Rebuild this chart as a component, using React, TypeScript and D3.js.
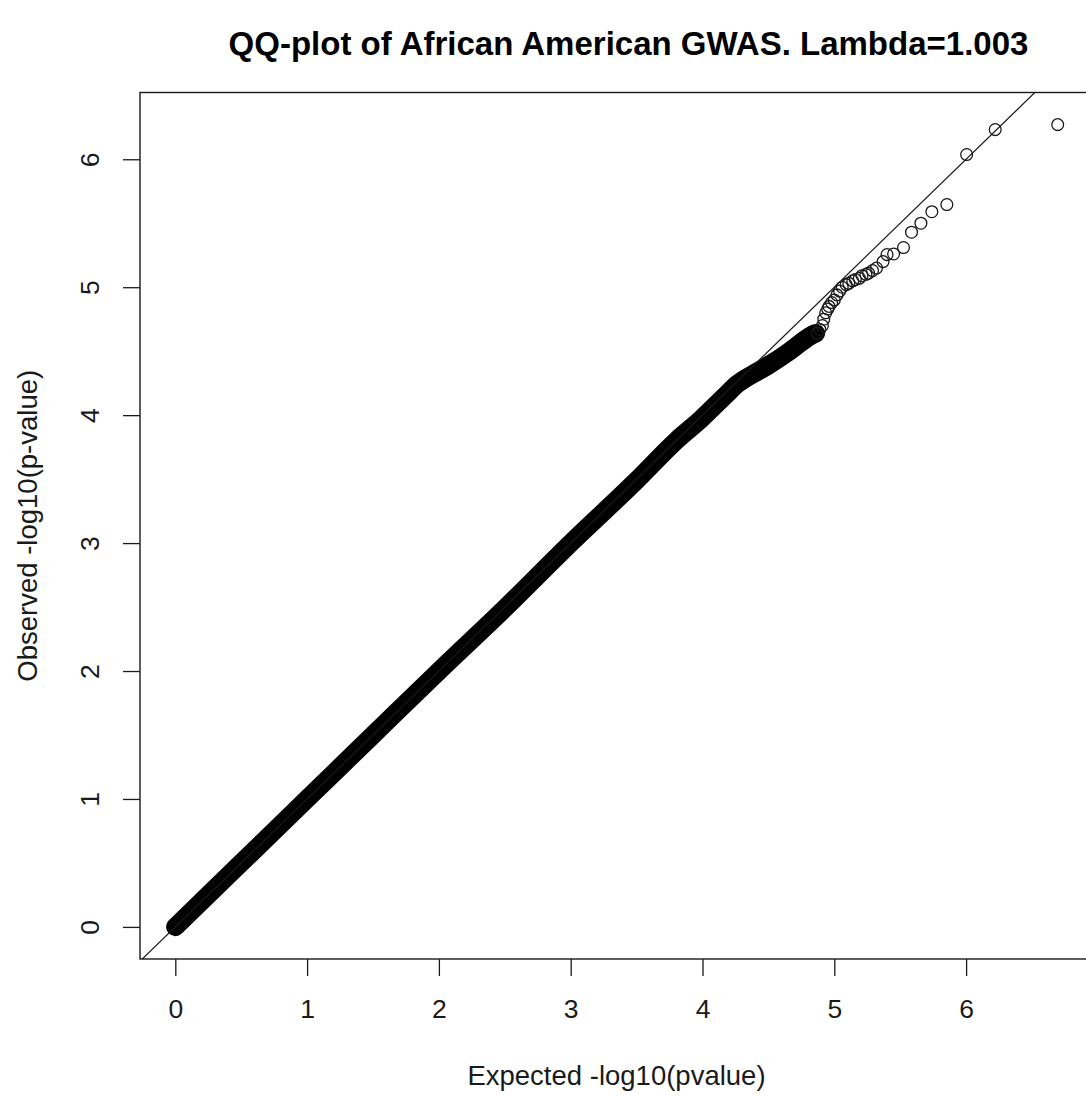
import { useEffect, useRef } from "react";
import * as d3 from "d3";

const title = "QQ-plot of African American GWAS. Lambda=1.003";
const xLabel = "Expected -log10(pvalue)";
const yLabel = "Observed -log10(p-value)";
const xTicks = [0, 1, 2, 3, 4, 5, 6];
const yTicks = [0, 1, 2, 3, 4, 5, 6];

// dense part: millions of overlapping circles, read along the middle of the black band
const bandExpected = [0, 0.25, 0.5, 1, 1.5, 2, 2.5, 3, 3.5, 3.8, 4.0, 4.1, 4.19, 4.26, 4.33, 4.4, 4.5, 4.62, 4.7, 4.75, 4.82, 4.86];
const bandObserved = [0, 0.25, 0.5, 1, 1.5, 2, 2.49, 3, 3.49, 3.8, 3.98, 4.08, 4.17, 4.24, 4.29, 4.33, 4.39, 4.47, 4.53, 4.57, 4.62, 4.64];

// upper tail where single circles can be told apart
const tailExpected = [4.87, 4.89, 4.91, 4.92, 4.935, 4.95, 4.96, 4.98, 5.0, 5.02, 5.04, 5.06, 5.09, 5.11, 5.14, 5.16, 5.19, 5.21, 5.24, 5.26, 5.29, 5.32, 5.37, 5.40, 5.45, 5.525, 5.586, 5.657, 5.74, 5.854, 6.004, 6.221, 6.695];
const tailObserved = [4.64, 4.67, 4.70, 4.75, 4.80, 4.83, 4.85, 4.88, 4.90, 4.94, 4.97, 5.0, 5.02, 5.03, 5.05, 5.06, 5.07, 5.09, 5.10, 5.11, 5.13, 5.15, 5.20, 5.255, 5.26, 5.31, 5.43, 5.50, 5.59, 5.646, 6.037, 6.232, 6.271];

const QQPlot = () => {
  const svgRef = useRef<SVGSVGElement>(null);

  useEffect(() => {
    const w = 1086;
    const h = 1097;
    const left = 140;
    const right = 1093;
    const top = 92.5;
    const bottom = 959;
    const font = "'Liberation Sans', Arial, Helvetica, sans-serif";
    const ink = "#1a1a1a";

    const svg = d3.select(svgRef.current).attr("width", w).attr("height", h);
    svg.selectAll("*").remove();
    svg.append("rect").attr("width", w).attr("height", h).attr("fill", "white");

    // R style 4% padding on both ends
    const xMax = d3.max(tailExpected) as number;
    const yMax = d3.max(tailObserved) as number;
    const xScale = d3.scaleLinear().domain([-0.04 * xMax, 1.04 * xMax]).range([left, right]);
    const yScale = d3.scaleLinear().domain([-0.04 * yMax, 1.04 * yMax]).range([bottom, top]);

    svg.append("clipPath").attr("id", "plotclip")
      .append("rect")
      .attr("x", left).attr("y", top)
      .attr("width", right - left).attr("height", bottom - top);

    const plot = svg.append("g").attr("clip-path", "url(#plotclip)");

    const band = bandExpected.map((e, i) => [e, bandObserved[i]] as [number, number]);
    const line = d3.line<[number, number]>()
      .x((d) => xScale(d[0]))
      .y((d) => yScale(d[1]));

    plot.append("path")
      .attr("d", line.curve(d3.curveMonotoneX)(band))
      .attr("fill", "none")
      .attr("stroke", "black")
      .attr("stroke-width", 18.5)
      .attr("stroke-linecap", "round")
      .attr("stroke-linejoin", "round");
    line.curve(d3.curveLinear);

    plot.selectAll(".pt")
      .data(tailExpected)
      .join("circle")
      .attr("class", "pt")
      .attr("cx", (d) => xScale(d))
      .attr("cy", (d, i) => yScale(tailObserved[i]))
      .attr("r", 5.9)
      .attr("fill", "none")
      .attr("stroke", ink)
      .attr("stroke-width", 1.3);

    // abline(0, 1)
    const lo = Math.min(xScale.domain()[0], yScale.domain()[0]);
    const hi = Math.max(xScale.domain()[1], yScale.domain()[1]);
    plot.append("path")
      .attr("d", line([[lo, lo], [hi, hi]]))
      .attr("fill", "none")
      .attr("stroke", ink)
      .attr("stroke-width", 1.2);

    // axes
    const xAxis = d3.axisBottom(xScale).tickValues(xTicks).tickSize(17).tickPadding(23).tickFormat((d) => String(d));
    const gx = svg.append("g").attr("transform", `translate(0,${bottom})`).call(xAxis);
    gx.select(".domain").remove();
    gx.selectAll("line").attr("stroke", ink).attr("stroke-width", 1.3);
    gx.selectAll("text").attr("font-family", font).attr("font-size", 26.5).attr("fill", ink);

    const yAxis = d3.axisLeft(yScale).tickValues(yTicks).tickSize(17).tickFormat((d) => String(d));
    const gy = svg.append("g").attr("transform", `translate(${left},0)`).call(yAxis);
    gy.select(".domain").remove();
    gy.selectAll("line").attr("stroke", ink).attr("stroke-width", 1.3);
    gy.selectAll("text")
      .attr("x", null)
      .attr("dy", null)
      .attr("text-anchor", "middle")
      .attr("transform", "translate(-41,0) rotate(-90)")
      .attr("font-family", font)
      .attr("font-size", 26.5)
      .attr("fill", ink);

    // box
    svg.append("rect")
      .attr("x", left).attr("y", top)
      .attr("width", right - left).attr("height", bottom - top)
      .attr("fill", "none")
      .attr("stroke", ink)
      .attr("stroke-width", 1.4);

    svg.append("text")
      .attr("x", (left + right) / 2 + 12)
      .attr("y", 55)
      .attr("text-anchor", "middle")
      .attr("font-family", font)
      .attr("font-weight", "bold")
      .attr("font-size", 33)
      .attr("fill", "black")
      .text(title);

    svg.append("text")
      .attr("x", (left + right) / 2)
      .attr("y", 1085)
      .attr("text-anchor", "middle")
      .attr("font-family", font)
      .attr("font-size", 27.5)
      .attr("fill", ink)
      .text(xLabel);

    svg.append("text")
      .attr("transform", `translate(37,${(top + bottom) / 2}) rotate(-90)`)
      .attr("text-anchor", "middle")
      .attr("font-family", font)
      .attr("font-size", 27.5)
      .attr("fill", ink)
      .text(yLabel);
  }, []);

  return (
    <svg ref={svgRef} style={{ position: "absolute", left: 0, top: 0, display: "block" }}></svg>
  );
};

export default QQPlot;
